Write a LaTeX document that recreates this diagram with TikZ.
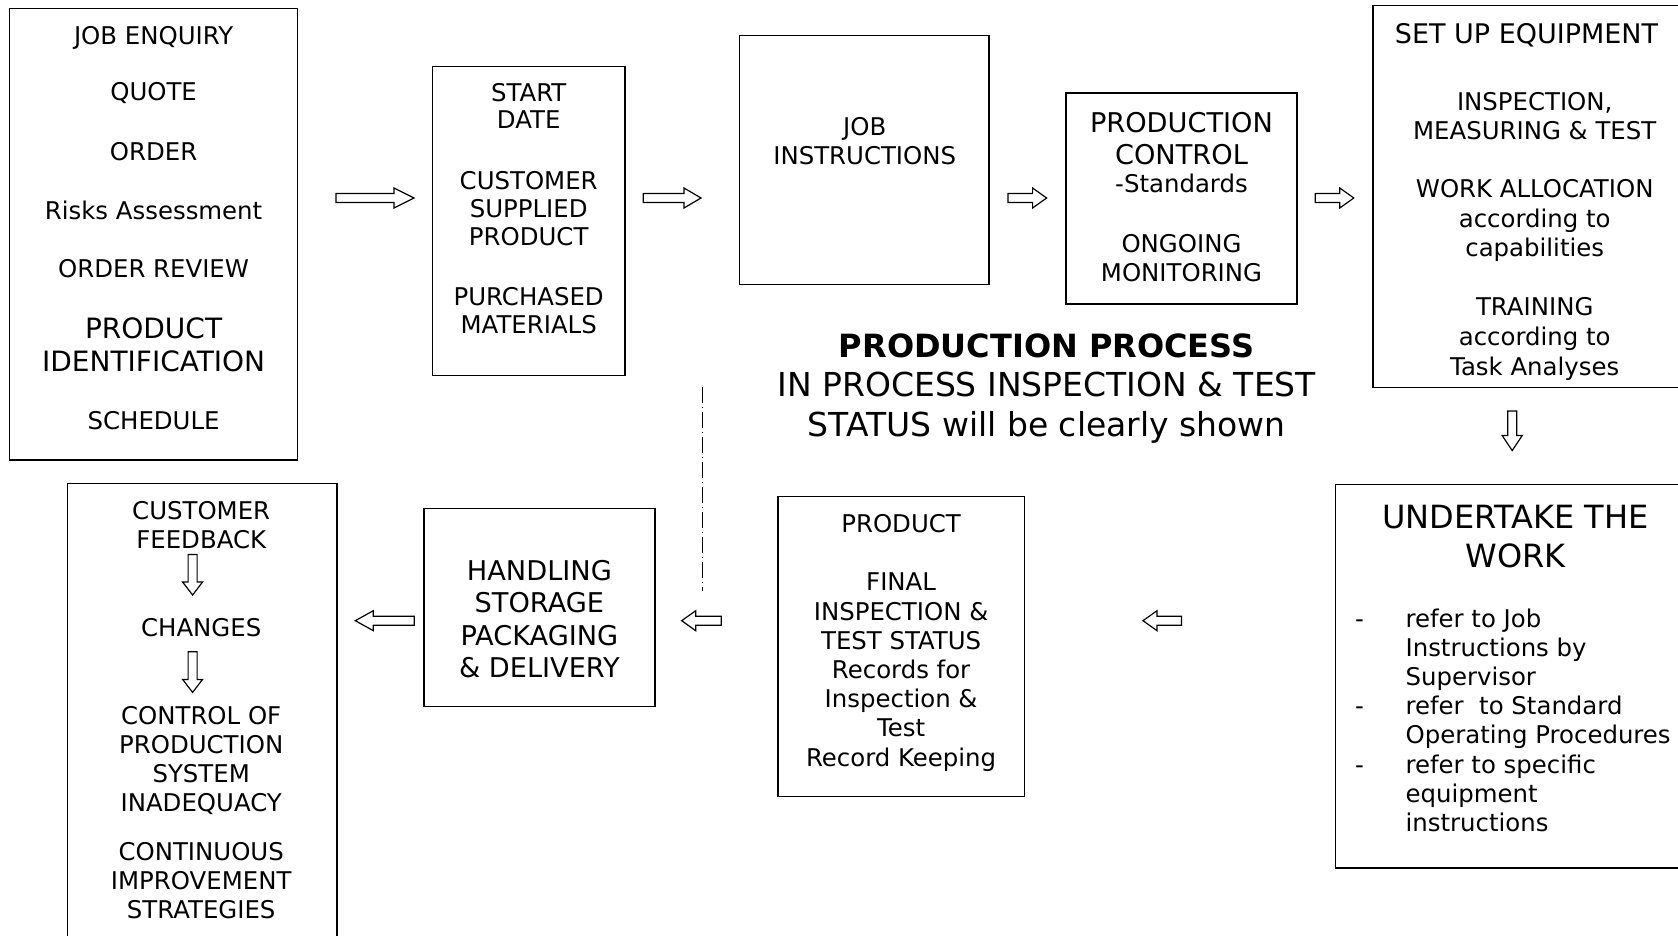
\documentclass[tikz,border=0pt]{standalone}
\usepackage{fontspec}
\setmainfont{DejaVu Sans}
\begin{document}
\begin{tikzpicture}[x=0.5pt,y=-0.5pt,
  box/.style={draw, line width=0.7pt, rectangle, inner sep=0},
  txt/.style={align=center, inner sep=0, font=\fontsize{12.2}{14.5}\selectfont},
  mid/.style={align=center, inner sep=0, font=\fontsize{13.6}{16.2}\selectfont},
  arrline/.style={draw, line width=0.6pt, fill=white},
  pics/barr/.style 2 args={code={\draw[arrline] (0,-4.5) -- ({#1-#2},-4.5) -- ({#1-#2},-10) -- (#1,0) -- ({#1-#2},10) -- ({#1-#2},4.5) -- (0,4.5) -- cycle;}},
  dashdot/.style={line width=0.5pt, dash pattern=on 8pt off 2pt on 0.5pt off 2pt}
]
\useasboundingbox (0,0) rectangle (1678,936);
\clip (0,0) rectangle (1678,936);
\fill[white] (0,0) rectangle (1678,936);

% ---- boxes ----
\node[box, minimum width=143.95pt, minimum height=225.8pt] (b1) at (153.55,234.4) {};
\node[box, minimum width=96.3pt, minimum height=154.6pt] (b2) at (528.7,221.0) {};
\node[box, minimum width=124.7pt, minimum height=124.7pt] (b3) at (864.2,160.0) {};
\node[box, minimum width=115.6pt, minimum height=105.4pt] (b4) at (1181.5,198.5) {};
\node[box, minimum width=163.45pt, minimum height=191pt] (b5) at (1536.55,196.4) {};
\node[box, minimum width=182.2pt, minimum height=191.55pt] (b6) at (1517.8,676.35) {};
\node[box, minimum width=123.1pt, minimum height=149.8pt] (b7) at (901.1,646.4) {};
\node[box, minimum width=115.6pt, minimum height=99pt] (b8) at (539.4,607.3) {};
\node[box, minimum width=134.85pt, minimum height=238.15pt] (b9) at (202.25,721.85) {};

% ---- box 1 ----
\node[txt] (t1a) at (153.6,37.4) {JOB ENQUIRY};
\node[txt] (t1b) at (153.6,93.1) {QUOTE};
\node[txt] (t1c) at (153.6,152.0) {ORDER};
\node[txt] (t1d) at (153.6,210.9) {Risks Assessment};
\node[txt] (t1e) at (153.6,268.7) {ORDER REVIEW};
\node[align=center, inner sep=0, font=\fontsize{14}{16.5}\selectfont] (t1f) at (153.6,345.2) {PRODUCT\\IDENTIFICATION};
\node[txt] (t1g) at (153.6,420.6) {SCHEDULE};

% ---- box 2 ----
\node[txt, font=\fontsize{12.2}{13.9}\selectfont] (t2a) at (528.7,106.0) {START\\DATE};
\node[txt, font=\fontsize{12.2}{13.9}\selectfont] (t2b) at (528.7,208.7) {CUSTOMER\\SUPPLIED\\PRODUCT};
\node[txt, font=\fontsize{12.2}{13.9}\selectfont] (t2c) at (528.7,310.9) {PURCHASED\\MATERIALS};

% ---- box 3 ----
\node[txt] (t3a) at (864.7,140.7) {JOB\\INSTRUCTIONS};

% ---- box 4 ----
\node[mid] (t4a) at (1181.5,138.6) {PRODUCTION\\CONTROL};
\node[txt] (t4b) at (1181.5,183.0) {-Standards};
\node[txt] (t4c) at (1181.5,258.0) {ONGOING\\MONITORING};

% ---- box 5 ----
\node[txt, font=\fontsize{13.5}{16}\selectfont] (t5a) at (1526.5,35.3) {SET UP EQUIPMENT};
\node[txt, font=\fontsize{12.2}{14.8}\selectfont] (t5b) at (1534.7,116.0) {INSPECTION,\\MEASURING \& TEST};
\node[txt, font=\fontsize{12.2}{14.8}\selectfont] (t5c) at (1534.7,220.5) {WORK ALLOCATION\\according to\\capabilities};
\node[txt, font=\fontsize{12.2}{14.8}\selectfont] (t5d) at (1534.7,339.0) {TRAINING\\according to\\Task Analyses};

% ---- box 6 ----
\node[align=center, inner sep=0, font=\fontsize{16}{19.8}\selectfont] (t6a) at (1515.4,536.6) {UNDERTAKE THE\\WORK};
\node[align=left, inner sep=0, font=\fontsize{12.2}{14.6}\selectfont, anchor=west] (t6b) at (1405.2,720.2)
  {\llap{\makebox[25.2pt][l]{-}}refer to Job\\Instructions by\\Supervisor\\
   \llap{\makebox[25.2pt][l]{-}}refer\ \ to Standard\\Operating Procedures\\
   \llap{\makebox[25.2pt][l]{-}}refer to specific\\equipment\\instructions};

% ---- box 7 ----
\node[txt] (t7a) at (901.1,523.3) {PRODUCT};
\node[txt, font=\fontsize{12.2}{14.6}\selectfont] (t7b) at (901.1,672.1) {FINAL\\INSPECTION \&\\TEST STATUS\\Records for\\Inspection \&\\Test\\Record Keeping};

% ---- box 8 ----
\node[mid] (t8a) at (539.4,619.1) {HANDLING\\STORAGE\\PACKAGING\\\& DELIVERY};

% ---- box 9 ----
\node[txt] (t9a) at (201.2,524.9) {CUSTOMER\\FEEDBACK};
\node[txt] (t9b) at (201.2,627.2) {CHANGES};
\node[txt] (t9c) at (201.2,760.3) {CONTROL OF\\PRODUCTION\\SYSTEM\\INADEQUACY};
\node[txt] (t9d) at (201.2,880.8) {CONTINUOUS\\IMPROVEMENT\\STRATEGIES};

% ---- centre title ----
\node[inner sep=0, font=\fontsize{16}{19.8}\selectfont\bfseries] (ttl) at (1046.7,345.6) {PRODUCTION PROCESS};
\node[align=center, inner sep=0, font=\fontsize{16.5}{20.2}\selectfont] (ttl2) at (1046.7,407.7) {IN PROCESS INSPECTION \& TEST\\STATUS will be clearly shown};

% ---- block arrows ----
\pic at (336,198) {barr={78}{20}};
\pic at (643.2,198) {barr={57.8}{17}};
\pic at (1008,198) {barr={38.6}{14}};
\pic at (1315.3,198) {barr={38.5}{14}};
\pic[rotate=-90] at (1512.2,411) {barr={39.6}{15}};
\pic[rotate=180] at (1181.5,620.7) {barr={38.5}{14}};
\pic[rotate=180] at (721.3,620.7) {barr={39.6}{14}};
\pic[rotate=180] at (414.2,620.7) {barr={58.9}{18}};
\pic[rotate=-90] at (192.6,554.4) {barr={40.6}{13}};
\pic[rotate=-90] at (192.6,651.8) {barr={40.6}{13}};

% ---- dash-dot line ----
\coordinate (dd1) at (702.1,387.4);
\coordinate (dd2) at (702.1,590.8);
\draw[dashdot] (dd1) -- (dd2);
\end{tikzpicture}
\end{document}
